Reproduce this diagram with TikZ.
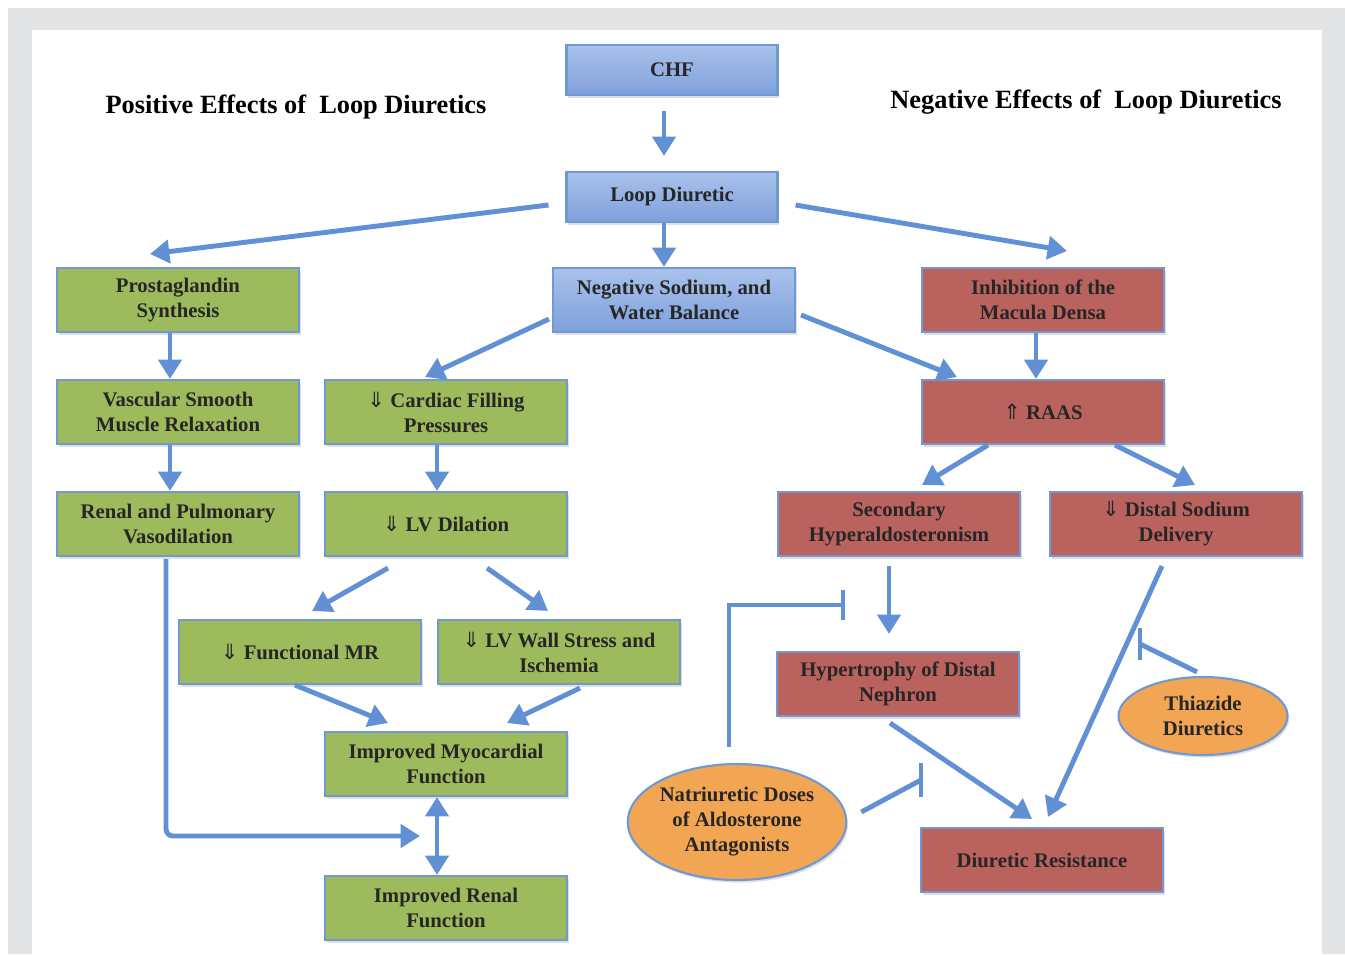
\documentclass[tikz,border=0pt]{standalone}
\usepackage{fontspec}
\setmainfont{Liberation Serif}
\newfontfamily\arrowfont{DejaVu Sans}
\usetikzlibrary{shapes.geometric,arrows.meta,calc,shadows}
\definecolor{panelgrey}{HTML}{E3E4E6}
\definecolor{blueTop}{HTML}{A9C2EC}
\definecolor{blueBot}{HTML}{7FA0DA}
\definecolor{boxline}{HTML}{7098D2}
\definecolor{greenfill}{HTML}{9DBB5C}
\definecolor{redfill}{HTML}{BA625D}
\definecolor{orangefill}{HTML}{F2A654}
\definecolor{arrowblue}{HTML}{6190D5}
\definecolor{inktext}{HTML}{262626}
\newcommand{\dnarr}{{\arrowfont\mdseries\fontsize{12}{14}\selectfont ⇓}}
\newcommand{\upwarr}{{\arrowfont\mdseries\fontsize{12}{14}\selectfont ⇑}}

\begin{document}
\begin{tikzpicture}[x=0.02cm,y=-0.02cm,
 every node/.style={text=inktext,font=\bfseries\fontsize{11.8}{14.2}\selectfont,align=center},
 box/.style={rectangle,draw=boxline,line width=1.2pt,minimum width=4.84cm,minimum height=1.28cm,inner sep=2pt,
  drop shadow={shadow xshift=1pt,shadow yshift=-1.5pt,opacity=0.25}},
 bluebox/.style={box,top color=blueTop,bottom color=blueBot},
 greenbox/.style={box,fill=greenfill},
 redbox/.style={box,fill=redfill},
 orangeoval/.style={ellipse,draw=boxline,line width=1.2pt,fill=orangefill,inner sep=0pt,
  drop shadow={shadow xshift=1pt,shadow yshift=-1.5pt,opacity=0.25}},
 heading/.style={font=\bfseries\fontsize{15}{18}\selectfont,text=black},
 arr/.style={draw=arrowblue,line width=2.8pt,-{Triangle[length=11pt,width=13pt]}},
 twoarr/.style={draw=arrowblue,line width=2.8pt,{Triangle[length=11pt,width=13pt]}-{Triangle[length=11pt,width=13pt]}},
 blockln/.style={draw=arrowblue,line width=2.8pt}]

\useasboundingbox (0,0) rectangle (1345,954);
\fill[panelgrey] (8,8) rectangle (1345,954);
\fill[white] (32,30) rectangle (1322,954);

\node[heading] (poshead) at (296,107) {Positive Effects of \ Loop Diuretics};
\node[heading] (neghead) at (1086,102) {Negative Effects of \ Loop Diuretics};

\node[bluebox,minimum width=4.22cm,minimum height=1cm] (chf) at (672,70) {CHF};
\node[bluebox,minimum width=4.22cm,minimum height=1cm] (loop) at (672,197) {Loop Diuretic};
\node[bluebox] (negbal) at (674,300) {Negative Sodium, and\\Water Balance};

\node[greenbox] (prost) at (178,300) {Prostaglandin\\Synthesis};
\node[greenbox] (vasc) at (178,412) {Vascular Smooth\\Muscle Relaxation};
\node[greenbox] (renvaso) at (178,524) {Renal and Pulmonary\\Vasodilation};
\node[greenbox] (filling) at (446,412) {\dnarr{} Cardiac Filling\\Pressures};
\node[greenbox] (lvdil) at (446,524) {\dnarr{} LV Dilation};
\node[greenbox] (funcmr) at (300,652) {\dnarr{} Functional MR};
\node[greenbox] (wallst) at (559,652) {\dnarr{} LV Wall Stress and\\Ischemia};
\node[greenbox] (myofn) at (446,764) {Improved Myocardial\\Function};
\node[greenbox] (renfn) at (446,908) {Improved Renal\\Function};

\node[redbox] (macula) at (1043,300) {Inhibition of the\\Macula Densa};
\node[redbox] (raas) at (1043,412) {\upwarr{} RAAS};
\node[redbox] (hyperald) at (899,524) {Secondary\\Hyperaldosteronism};
\node[redbox,minimum width=5.04cm] (distal) at (1176,524) {\dnarr{} Distal Sodium\\Delivery};
\node[redbox] (hypertr) at (898,684) {Hypertrophy of Distal\\Nephron};
\node[redbox] (resist) at (1042,860) {Diuretic Resistance};

\node[orangeoval,minimum width=3.38cm,minimum height=1.56cm] (thiaz) at (1203,716) {Thiazide\\Diuretics};
\node[orangeoval,minimum width=4.26cm,minimum height=2.32cm] (natri) at (737,822) {Natriuretic Doses\\of Aldosterone\\Antagonists};

\coordinate (joinpt) at (420,836);
\coordinate (blockA) at (843,605);
\coordinate (blockB) at (921,780);
\coordinate (blockC) at (1140,644);

\draw[arr] ($(chf.south)+(-8,15)$) -- ($(loop.north)+(-8,-15)$);
\draw[arr] ($(loop.south)+(-8,0)$) -- ($(negbal.north)+(-10,0)$);
\draw[arr] ($(loop.west)+(-17,8)$) -- ($(prost.north)+(-28,-13)$);
\draw[arr] ($(loop.east)+(17,8)$) -- ($(macula.north)+(24,-16)$);
\draw[arr] ($(prost.south)+(-8,0)$) -- ($(vasc.north)+(-8,0)$);
\draw[arr] ($(vasc.south)+(-8,0)$) -- ($(renvaso.north)+(-8,0)$);
\draw[arr] ($(negbal.south west)+(-3,-14)$) -- ($(filling.north)+(-21,-2)$);
\draw[arr] ($(negbal.east)+(5,15)$) -- ($(raas.north west)+(36,-2)$);
\draw[arr] ($(macula.south)+(-7,0)$) -- ($(raas.north)+(-7,0)$);
\draw[arr] ($(filling.south)+(-9,0)$) -- ($(lvdil.north)+(-9,0)$);
\draw[arr] ($(raas.south)+(-55,0)$) -- ($(hyperald.north)+(23,-6)$);
\draw[arr] ($(raas.south)+(72,0)$) -- ($(distal.north)+(19,-6)$);
\draw[arr] ($(lvdil.south)+(-58,11)$) -- ($(funcmr.north)+(12,-8)$);
\draw[arr] ($(lvdil.south)+(41,11)$) -- ($(wallst.north)+(-11,-8)$);
\draw[arr] ($(hyperald.south)+(-10,9)$) -- ($(hypertr.north)+(-9,-17)$);
\draw[arr] ($(funcmr.south)+(-5,0)$) -- ($(myofn.north)+(-58,-8)$);
\draw[arr] ($(wallst.south)+(21,3)$) -- ($(myofn.north)+(61,-8)$);
\draw[twoarr] ($(myofn.south)+(-9,0)$) -- ($(renfn.north)+(-9,0)$);
\draw[arr,rounded corners=4pt] ($(renvaso.south)+(-12,2)$) |- (joinpt);
\draw[arr] ($(hypertr.south)+(-8,6)$) -- ($(resist.north)+(-10,-8)$);
\draw[arr] ($(distal.south)+(-14,9)$) -- ($(resist.north)+(6,-10)$);

\draw[blockln] ($(natri.north)+(-8,-16)$) |- (blockA);
\draw[blockln] ($(blockA)+(0,-15)$) -- ($(blockA)+(0,15)$);
\draw[blockln] ($(natri.east)+(14,-10)$) -- (blockB);
\draw[blockln] ($(blockB)+(0,-17)$) -- ($(blockB)+(0,17)$);
\draw[blockln] ($(thiaz.north)+(-6,-4)$) -- (blockC);
\draw[blockln] ($(blockC)+(0,-16)$) -- ($(blockC)+(0,16)$);
\end{tikzpicture}
\end{document}
